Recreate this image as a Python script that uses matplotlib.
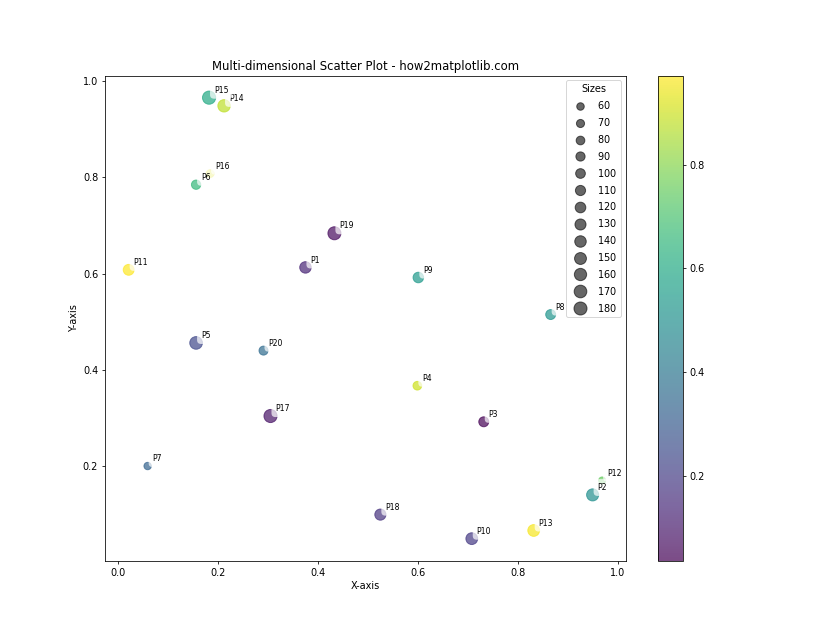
import matplotlib
matplotlib.use("Agg")
import matplotlib.pyplot as plt

# points
labels = ["P%d" % (i + 1) for i in range(20)]
x = [0.375, 0.950, 0.732, 0.599, 0.156, 0.156, 0.059, 0.866, 0.601, 0.708,
     0.021, 0.969, 0.832, 0.212, 0.182, 0.184, 0.305, 0.525, 0.433, 0.291]
y = [0.613, 0.140, 0.292, 0.367, 0.456, 0.785, 0.200, 0.515, 0.592, 0.049,
     0.608, 0.170, 0.066, 0.949, 0.966, 0.808, 0.304, 0.099, 0.684, 0.440]
colors = [0.13, 0.50, 0.036, 0.90, 0.24, 0.66, 0.33, 0.52, 0.54, 0.19,
          0.972, 0.75, 0.96, 0.88, 0.60, 0.93, 0.08, 0.17, 0.06, 0.36]
sizes = [140, 155, 105, 80, 170, 92, 58, 105, 118, 147,
         125, 52, 147, 163, 184, 64, 182, 132, 180, 86]

fig = plt.figure(figsize=(12, 9), dpi=70)
sc = plt.scatter(x, y, c=colors, s=sizes, alpha=0.7, cmap='viridis')
plt.colorbar(sc)

for i, lab in enumerate(labels):
    plt.annotate(lab, (x[i], y[i]), xytext=(5, 5), textcoords='offset points',
                 fontsize=8,
                 bbox=dict(boxstyle='round,pad=0.5', facecolor='white', alpha=0.7, edgecolor='none'))

handles, leg_labels = sc.legend_elements(prop="sizes", alpha=0.6)
plt.legend(handles, leg_labels, loc="upper right", title="Sizes")

plt.title("Multi-dimensional Scatter Plot - how2matplotlib.com")
plt.xlabel("X-axis")
plt.ylabel("Y-axis")
plt.savefig("out.png", dpi=70)
